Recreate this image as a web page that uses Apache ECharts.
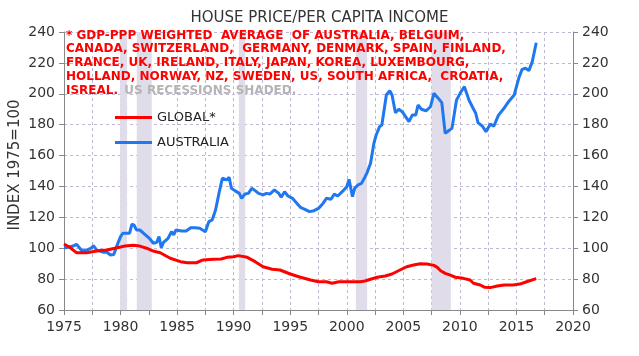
<!DOCTYPE html>
<html>
<head>
<meta charset="utf-8">
<script src="https://cdn.jsdelivr.net/npm/echarts@6/dist/echarts.min.js"></script>
<style>
html,body{margin:0;padding:0;background:#fff;}
#chart{width:639px;height:356px;}
</style>
</head>
<body>
<div id="chart"></div>
<script>
var australiaX = [1975.0,1975.4,1975.8,1976.1,1976.4,1976.6,1977.0,1977.4,1977.6,1977.9,1978.2,1978.5,1978.8,1979.1,1979.4,1979.7,1980.0,1980.2,1980.5,1980.8,1981.0,1981.2,1981.4,1981.7,1982.2,1982.6,1982.9,1983.2,1983.4,1983.6,1983.8,1984.2,1984.5,1984.7,1984.9,1985.4,1985.8,1986.2,1986.6,1987.0,1987.5,1987.8,1988.1,1988.4,1988.7,1989.0,1989.4,1989.6,1989.8,1990.1,1990.5,1990.7,1991.0,1991.3,1991.6,1991.9,1992.2,1992.6,1992.9,1993.2,1993.6,1994.0,1994.2,1994.5,1994.8,1995.2,1995.6,1995.9,1996.3,1996.7,1997.1,1997.5,1997.9,1998.2,1998.6,1998.9,1999.2,1999.6,2000.0,2000.2,2000.5,2000.7,2001.0,2001.3,2001.6,2001.8,2002.1,2002.4,2002.6,2002.9,2003.1,2003.3,2003.5,2003.8,2004.0,2004.3,2004.6,2004.9,2005.2,2005.5,2005.8,2006.1,2006.3,2006.6,2007.0,2007.4,2007.7,2008.1,2008.4,2008.7,2009.0,2009.3,2009.7,2010.1,2010.4,2010.8,2011.1,2011.4,2011.6,2012.0,2012.3,2012.7,2013.0,2013.4,2013.9,2014.3,2014.8,2015.2,2015.5,2015.8,2016.1,2016.4,2016.75];
var australiaY = [100.3,100.6,101.4,102.5,100,98.2,98.8,100,101.6,98.8,98.2,97.4,97.4,95.6,96,102,107.5,109.7,109.7,109.7,115.5,115,111.8,111.8,108.6,106,103.2,103.8,107.5,100.3,103.8,106.4,110.7,108.6,111.8,111.2,111.2,113.3,113.3,112.9,110.7,117.2,118.3,124.7,135.5,145.3,144.2,146,138.8,137.3,135.5,132.3,135.1,135.5,138.8,137.3,135.5,134.5,135.5,135.1,137.7,135.5,133,136.6,133.8,132.3,129,126.5,125.2,123.7,124.3,125.8,129,132.3,131.7,135,133.8,136.6,139.8,144.6,133.4,138.8,141,142,146,149,155,168,173.3,178.7,179.8,189.5,199.2,202,199.2,187.8,190,188.4,185.2,182,186.3,186.3,192.7,190,189,191.6,200.3,197,194.3,174.4,176.1,177.6,195.9,201.3,204.6,196,191.6,187.4,181.3,179,175.5,180.4,179,186,190.6,194.9,199.2,210,215.8,216.5,215,220.8,233];

var globalX = [1975.0,1975.5,1976.1,1977.0,1977.9,1978.8,1979.5,1980.4,1981.1,1981.7,1982.3,1982.8,1983.5,1984.4,1985.3,1985.9,1986.7,1987.3,1988.2,1988.9,1989.4,1990.0,1990.4,1991.2,1991.9,1992.6,1993.4,1994.1,1995.0,1995.9,1996.8,1997.5,1998.2,1998.7,1999.3,2000.3,2001.2,2001.6,2002.1,2002.7,2003.4,2004.0,2004.7,2005.3,2005.9,2006.5,2007.1,2007.7,2008.0,2008.3,2008.7,2009.1,2009.6,2010.3,2010.9,2011.2,2011.8,2012.2,2012.7,2013.3,2013.9,2014.7,2015.3,2015.9,2016.75];
var globalY = [102.7,100.6,97.1,97.1,98.2,98.8,100,101.4,101.9,101.4,100,98.4,97.1,93.5,91.3,90.6,90.6,92.4,92.8,93,94.1,94.5,95.2,94.1,91.3,88,86.4,85.9,83.3,81.2,79.4,78.3,78.3,77.3,78.3,78.3,78.3,78.8,79.9,81.2,82,83.3,85.9,88,89.1,90,89.8,88.9,87.6,85.4,83.7,82.7,81.2,80.5,79.4,77.3,76.2,74.7,74.5,75.5,76.2,76.2,76.8,78.3,80.3];

var recessionStart = [1979.96, 1981.43, 1990.46, 2000.8, 2007.5];
var recessionEnd   = [1980.58, 1982.76, 1991.02, 2001.8, 2009.2];

var seriesNames = ['GLOBAL*', 'AUSTRALIA'];
var noteLines = [
  '* GDP-PPP WEIGHTED  AVERAGE  OF AUSTRALIA, BELGUIM,',
  'CANADA, SWITZERLAND,  GERMANY, DENMARK, SPAIN, FINLAND,',
  'FRANCE, UK, IRELAND, ITALY, JAPAN, KOREA, LUXEMBOURG,',
  'HOLLAND, NORWAY, NZ, SWEDEN, US, SOUTH AFRICA,  CROATIA,',
  'ISREAL.'
];
var noteGray = 'US RECESSIONS SHADED.';
var titleText = 'HOUSE PRICE/PER CAPITA INCOME';
var yAxisTitle = 'INDEX 1975=100';

function zip(xs, ys){ return xs.map(function(x,i){ return [x, ys[i]]; }); }

var FONT = 'DejaVu Sans';
var chart = echarts.init(document.getElementById('chart'), null, {renderer:'canvas'});

var areas = recessionStart.map(function(s,i){ return [{xAxis:s},{xAxis:recessionEnd[i]}]; });

var noteGraphics = noteLines.map(function(t,i){
  var txt = (i === noteLines.length-1) ? '{r|' + t + '} {g|' + noteGray + '}' : '{r|' + t + '}';
  return {
    type:'text', left: 66, top: 29.5 + i*13.75, z: 50,
    style:{
      text: txt,
      rich:{
        r:{fill:'#ff0000', font:'bold 12px "DejaVu Sans"'},
        g:{fill:'#b4b4b4', font:'bold 12px "DejaVu Sans"', padding:[0,0,0,3]}
      }
    }
  };
});

var axisLabelStyle = {color:'#333', fontFamily:FONT, fontSize:14};

chart.setOption({
  animation:false,
  backgroundColor:'#fff',
  title:{
    text:titleText, left:'center', top:6,
    textStyle:{fontFamily:FONT, fontSize:15, fontWeight:'normal', color:'#333'}
  },
  grid:{left:64, right:66, top:32, bottom:46, containLabel:false},
  legend:{
    data:seriesNames, orient:'vertical', left:110, top:106,
    itemWidth:37, itemHeight:3, icon:'rect', itemGap:12,
    textStyle:{fontFamily:FONT, fontSize:13, color:'#222'}
  },
  xAxis:{
    type:'value', min:1975, max:2020, interval:2.5,
    axisLine:{lineStyle:{color:'#888', width:1}},
    axisTick:{show:true, length:5, lineStyle:{color:'#888'}},
    axisLabel:Object.assign({margin:10, formatter:function(v){ return (v % 5 === 0) ? String(v) : ''; }}, axisLabelStyle),
    splitLine:{show:true, lineStyle:{color:'#bfb7d0', type:[3,3], width:1}}
  },
  yAxis:[
    {
      type:'value', min:60, max:240, interval:20, position:'left',
      axisLine:{show:true, lineStyle:{color:'#888'}},
      axisTick:{show:true, length:5, lineStyle:{color:'#888'}},
      axisLabel:Object.assign({margin:9}, axisLabelStyle),
      splitLine:{show:true, lineStyle:{color:'#bfb7d0', type:[3,3], width:1}}
    },
    {
      type:'value', min:60, max:240, interval:20, position:'right',
      axisLine:{show:true, lineStyle:{color:'#888'}},
      axisTick:{show:true, length:5, lineStyle:{color:'#888'}},
      axisLabel:Object.assign({margin:9}, axisLabelStyle),
      splitLine:{show:false}
    }
  ],
  series:[
    {
      name:seriesNames[0], type:'line', data:zip(globalX, globalY),
      showSymbol:false, symbol:'none', color:'#ff0000',
      lineStyle:{width:3, color:'#ff0000'},
      markArea:{silent:true, itemStyle:{color:'#e0dcea'}, data:areas},
      z:3
    },
    {
      name:seriesNames[1], type:'line', data:zip(australiaX, australiaY),
      showSymbol:false, symbol:'none', color:'#1f78f0',
      lineStyle:{width:3, color:'#1f78f0'},
      z:2
    }
  ],
  graphic:[
    {type:'text', x:15, y:165, rotation:Math.PI/2, z:50,
     style:{text:yAxisTitle, fill:'#333', font:'15px "DejaVu Sans"', align:'center', verticalAlign:'middle'}}
  ].concat(noteGraphics)
});
</script>
</body>
</html>
